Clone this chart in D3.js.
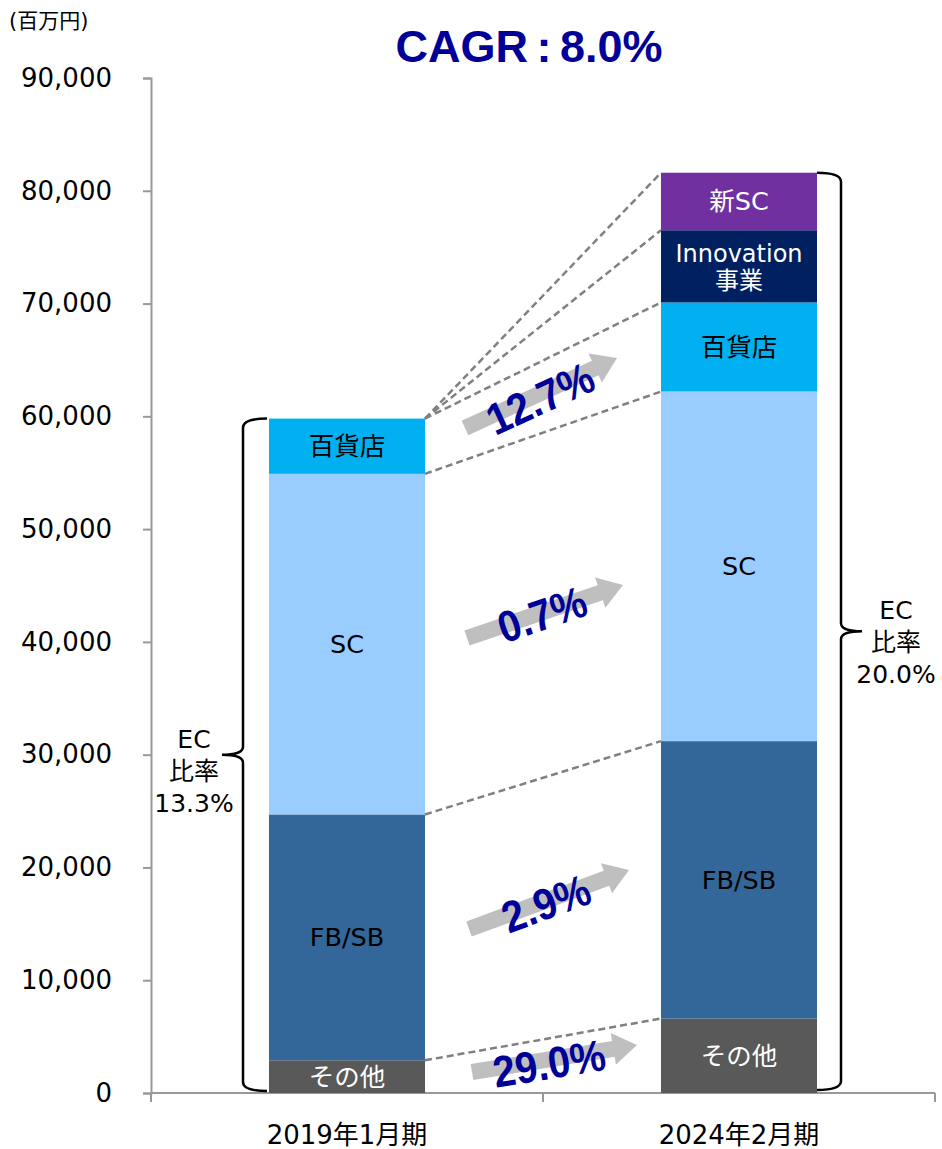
<!DOCTYPE html>
<html>
<head>
<meta charset="utf-8">
<script src="https://cdn.jsdelivr.net/npm/d3@7"></script>
<style>
  html, body { margin: 0; padding: 0; background: #fff; }
  svg { display: block; }
</style>
</head>
<body>
<svg id="chart" width="942" height="1149"></svg>
<script>
// ---- data (百万円) ----
const categories = ["2019年1月期", "2024年2月期"];
const segments = ["その他", "FB/SB", "SC", "百貨店", "Innovation事業", "新SC"];
const segmentLabels = [["その他"], ["FB/SB"], ["SC"], ["百貨店"], ["Innovation", "事業"], ["新SC"]];
const values2019 = [2900, 21800, 30200, 4900, 0, 0];
const values2024 = [6600, 24600, 31000, 7900, 6400, 5100];
const segmentColors = ["#595959", "#336699", "#99ccff", "#00b0f0", "#002060", "#7030a0"];
const segmentTextColors = ["#ffffff", "#000000", "#000000", "#000000", "#ffffff", "#ffffff"];
const yTicks = [0, 10000, 20000, 30000, 40000, 50000, 60000, 70000, 80000, 90000];
const growthLabels = ["29.0%", "2.9%", "0.7%", "12.7%"];
const cagrParts = ["CAGR", ":", "8.0%"];
const ecRatio = ["13.3%", "20.0%"];
const unitLabel = "(百万円)";

// ---- layout ----
const svg = d3.select("#chart");
const plot = { left: 151, right: 935, top: 78, bottom: 1093 };
const sansFont = "'DejaVu Sans', Verdana, 'Noto Sans CJK JP', sans-serif";
const boldFont = "'Liberation Sans', Arial, sans-serif";

const x = d3.scaleBand().domain(categories).range([plot.left, plot.right]).padding(0);
const barWidth = x.bandwidth() * 0.398;
const y = d3.scaleLinear().domain([0, 90000]).range([plot.bottom, plot.top]);

// stacked table
const table = categories.map((c, i) => {
  const row = { category: c };
  const vals = i === 0 ? values2019 : values2024;
  segments.forEach((s, j) => row[s] = vals[j]);
  return row;
});
const stacked = d3.stack().keys(segments)(table);

// ---- y axis ----
const yAxis = d3.axisLeft(y).tickValues(yTicks).tickSize(8).tickPadding(31)
  .tickFormat(d3.format(","));
const yG = svg.append("g").attr("transform", `translate(${plot.left},0)`).call(yAxis);
yG.select(".domain").attr("stroke", "#999").attr("stroke-width", 2);
yG.selectAll(".tick line").attr("stroke", "#999").attr("stroke-width", 2);
yG.selectAll(".tick text").attr("font-family", sansFont).attr("font-size", 26)
  .attr("fill", "#000");

// ---- x axis (ticks at band boundaries) ----
const xAxisG = svg.append("g");
xAxisG.append("line").attr("x1", plot.left).attr("x2", plot.right)
  .attr("y1", plot.bottom).attr("y2", plot.bottom)
  .attr("stroke", "#999").attr("stroke-width", 2);
const boundaries = categories.map(c => x(c)).concat([x(categories[categories.length - 1]) + x.bandwidth()]);
xAxisG.selectAll("line.tk").data(boundaries).join("line").attr("class", "tk")
  .attr("x1", d => d).attr("x2", d => d)
  .attr("y1", plot.bottom).attr("y2", plot.bottom + 9)
  .attr("stroke", "#999").attr("stroke-width", 2);
xAxisG.selectAll("text").data(categories).join("text")
  .attr("x", d => x(d) + x.bandwidth() / 2).attr("y", 1144)
  .attr("text-anchor", "middle").attr("font-family", sansFont).attr("font-size", 26)
  .text(d => d);

// ---- connector dashed lines ----
const barL = c => x(c) + (x.bandwidth() - barWidth) / 2;
const x0r = barL(categories[0]) + barWidth;
const x1l = barL(categories[1]);
const cum0 = d3.cumsum(values2019);
const cum1 = d3.cumsum(values2024);
const links = [
  [cum0[0], cum1[0]],
  [cum0[1], cum1[1]],
  [cum0[2], cum1[2]],
  [cum0[3], cum1[3]],
  [cum0[3], cum1[4]],
  [cum0[3], cum1[5]]
];
svg.append("g").selectAll("line").data(links).join("line")
  .attr("x1", x0r).attr("x2", x1l)
  .attr("y1", d => y(d[0])).attr("y2", d => y(d[1]))
  .attr("stroke", "#808080").attr("stroke-width", 2.5)
  .attr("stroke-dasharray", "7,4");

// ---- bars ----
const barsG = svg.append("g");
stacked.forEach((layer, j) => {
  layer.forEach((seg, i) => {
    const c = categories[i];
    if (seg[1] - seg[0] <= 0) return;
    barsG.append("rect")
      .attr("x", barL(c)).attr("width", barWidth)
      .attr("y", y(seg[1])).attr("height", y(seg[0]) - y(seg[1]))
      .attr("fill", segmentColors[j]);
    const lines = segmentLabels[j];
    const cy = (y(seg[0]) + y(seg[1])) / 2;
    const multi = lines.length > 1;
    const lh = 27;
    lines.forEach((ln, k) => {
      barsG.append("text")
        .attr("x", barL(c) + barWidth / 2)
        .attr("y", cy + (k - (lines.length - 1) / 2) * lh + 9)
        .attr("text-anchor", "middle")
        .attr("font-family", sansFont).attr("font-size", multi ? 24 : 25.5)
        .attr("fill", segmentTextColors[j])
        .text(ln);
    });
  });
});

// ---- growth arrows with rates ----
const arrowLayout = [
  { tail: [472, 1072], tip: [637, 1045], text: [549, 1063] },
  { tail: [469, 929], tip: [629, 870], text: [546, 903] },
  { tail: [467, 638], tip: [623, 585], text: [542, 614] },
  { tail: [465, 428], tip: [617, 358], text: [540, 398] }
];
const arrowsG = svg.append("g");
arrowLayout.forEach((a, i) => {
  const dx = a.tip[0] - a.tail[0], dy = a.tip[1] - a.tail[1];
  const len = Math.hypot(dx, dy);
  const ang = Math.atan2(dy, dx) * 180 / Math.PI;
  const sh = 8, hw = 16, hl = 24;
  const g = arrowsG.append("g")
    .attr("transform", `translate(${a.tail[0]},${a.tail[1]}) rotate(${ang})`);
  g.append("path")
    .attr("d", `M0,${-sh} L${len - hl},${-sh} L${len - hl},${-hw} L${len},0 L${len - hl},${hw} L${len - hl},${sh} L0,${sh} Z`)
    .attr("fill", "#bfbfbf");
  arrowsG.append("text")
    .attr("transform", `translate(${a.text[0]},${a.text[1]}) rotate(${ang}) scale(0.95,1.05)`)
    .attr("text-anchor", "middle").attr("dy", "0.36em")
    .attr("font-family", boldFont).attr("font-weight", "bold")
    .attr("font-size", 42).attr("fill", "#000099")
    .text(growthLabels[i]);
});

// ---- braces with EC ratio ----
const braceG = svg.append("g").attr("fill", "none").attr("stroke", "#000").attr("stroke-width", 2.5);
const lt = y(cum0[3]), lb = plot.bottom - 2, lm = (lt + lb) / 2;
const lx = 243, lEnd = barL(categories[0]) - 2;
braceG.append("path").attr("d",
  `M${lEnd},${lt} Q${lx},${lt} ${lx},${lt + 9} L${lx},${lm - 8} Q${lx},${lm} ${lx - 21},${lm}` +
  ` Q${lx},${lm} ${lx},${lm + 8} L${lx},${lb - 9} Q${lx},${lb} ${lEnd},${lb}`);
const rt = y(cum1[5]), rb = plot.bottom - 3, rm = (rt + rb) / 2;
const rx = 841, rEnd = barL(categories[1]) + barWidth;
braceG.append("path").attr("d",
  `M${rEnd},${rt} Q${rx},${rt} ${rx},${rt + 9} L${rx},${rm - 8} Q${rx},${rm} ${rx + 21},${rm}` +
  ` Q${rx},${rm} ${rx},${rm + 8} L${rx},${rb - 9} Q${rx},${rb} ${rEnd},${rb}`);

function ecLabel(cx, cy, pct) {
  ["EC", "比率", pct].forEach((s, k) => {
    svg.append("text").attr("text-anchor", "middle")
      .attr("font-family", sansFont).attr("font-size", 25).attr("fill", "#000")
      .attr("x", cx).attr("y", cy + (k - 1) * 32 + 9).text(s);
  });
}
ecLabel(194, lm + 16, ecRatio[0]);
ecLabel(896, rm + 11, ecRatio[1]);

// ---- title & unit ----
const titleAttrs = sel => sel.attr("y", 62)
  .attr("font-family", boldFont).attr("font-weight", "bold").attr("font-size", 45)
  .attr("fill", "#000099");
svg.append("text").call(titleAttrs).attr("x", 528).attr("text-anchor", "end").text(cagrParts[0]);
svg.append("text").call(titleAttrs).attr("x", 544).attr("text-anchor", "middle").text(cagrParts[1]);
svg.append("text").call(titleAttrs).attr("x", 560).attr("text-anchor", "start").text(cagrParts[2]);
svg.append("text").attr("x", 9).attr("y", 28)
  .attr("font-family", sansFont).attr("font-size", 21).attr("fill", "#000")
  .text(unitLabel);
</script>
</body>
</html>
